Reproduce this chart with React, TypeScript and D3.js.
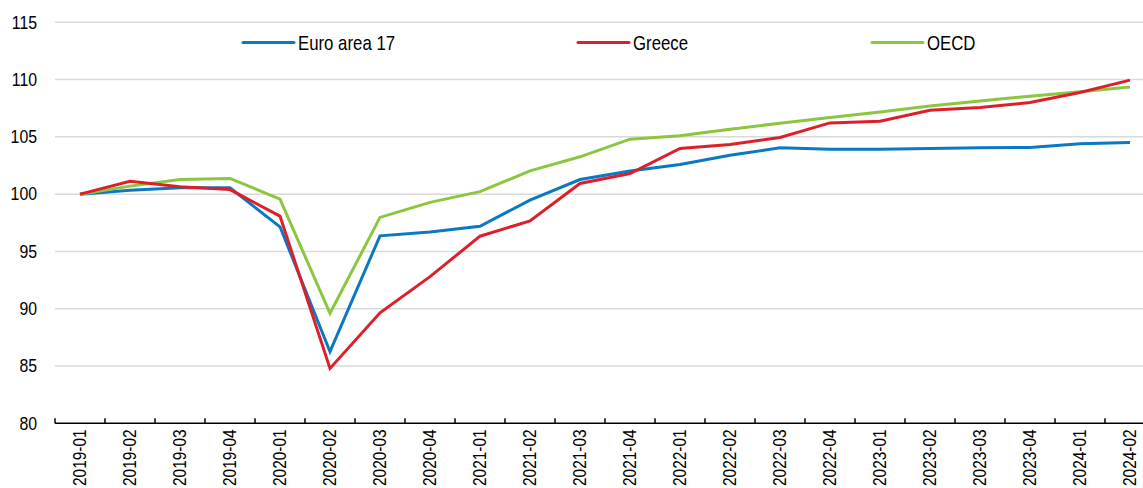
import React from "react";
import * as d3 from "d3";

const categories = [
  "2019-01", "2019-02", "2019-03", "2019-04",
  "2020-01", "2020-02", "2020-03", "2020-04",
  "2021-01", "2021-02", "2021-03", "2021-04",
  "2022-01", "2022-02", "2022-03", "2022-04",
  "2023-01", "2023-02", "2023-03", "2023-04",
  "2024-01", "2024-02",
];

const euroArea = [
  100, 100.35, 100.55, 100.55, 97.15, 86.25, 96.36, 96.7, 97.2, 99.48, 101.28,
  102.03, 102.59, 103.4, 104.04, 103.93, 103.93, 103.99, 104.04, 104.07, 104.4, 104.5,
];
const greece = [
  100, 101.13, 100.64, 100.4, 98.08, 84.79, 89.64, 92.8, 96.33, 97.67, 100.93,
  101.8, 103.99, 104.34, 104.95, 106.22, 106.37, 107.33, 107.56, 108.0, 108.87, 109.95,
];
const oecd = [
  100, 100.7, 101.28, 101.37, 99.56, 89.6, 97.97, 99.28, 100.22, 102.03, 103.26,
  104.8, 105.09, 105.67, 106.19, 106.69, 107.18, 107.7, 108.14, 108.55, 108.93, 109.36,
];

const yTicks = [80, 85, 90, 95, 100, 105, 110, 115];

const seriesNames = ["Euro area 17", "Greece", "OECD"];
const seriesColors = ["#0a79c1", "#dd1f2b", "#8cc63f"];
const seriesValues = [euroArea, greece, oecd];
const legendX = [243, 578, 872];

const W = 1143;
const H = 488;
const FONT = "'Liberation Sans', Arial, sans-serif";

export default function App() {
  const x = d3.scaleBand<string>().domain(categories).range([55, 1155]).paddingInner(0).paddingOuter(0);
  const y = d3.scaleLinear().domain([80, 115]).range([423.3, 22.3]);
  const cx = (c: string) => (x(c) as number) + x.bandwidth() / 2;
  const line = d3
    .line<number>()
    .x((_, i) => cx(categories[i]))
    .y((v) => y(v));

  const tickEdges = categories.map((c) => x(c) as number).concat([1155]);
  const axisY = y(80);

  return (
    <svg
      width={W}
      height={H}
      style={{ position: "absolute", left: 0, top: 0, background: "#fff" }}
      fontFamily={FONT}
    >
      {yTicks.filter((t) => t !== 80).map((t) => (
        <line key={"g" + t} x1={55} x2={W} y1={y(t)} y2={y(t)} stroke="#d9d9d9" strokeWidth={1.5} />
      ))}
      {yTicks.map((t) => (
        <text
          key={"yl" + t}
          transform={`translate(37,${y(t)}) scale(0.88,1)`}
          dy="0.35em"
          textAnchor="end"
          fontSize={18}
          fill="#000"
        >
          {t}
        </text>
      ))}
      <line x1={55} x2={W} y1={axisY} y2={axisY} stroke="#000" strokeWidth={1.5} />
      {tickEdges.map((e, i) => (
        <line key={"t" + i} x1={e} x2={e} y1={axisY} y2={axisY - 5} stroke="#000" strokeWidth={1.5} />
      ))}
      {categories.map((c) => (
        <text
          key={"xl" + c}
          transform={`translate(${cx(c)},${axisY + 6}) rotate(-90) scale(0.86,1)`}
          textAnchor="end"
          dy="0.35em"
          fontSize={18}
          fill="#000"
        >
          {c}
        </text>
      ))}
      {[0, 2, 1].map((k) => (
        <path
          key={"s" + k}
          d={line(seriesValues[k]) || ""}
          fill="none"
          stroke={seriesColors[k]}
          strokeWidth={3}
          strokeLinejoin="miter"
        />
      ))}
      {seriesNames.map((n, k) => (
        <g key={"lg" + k}>
          <line x1={legendX[k]} x2={legendX[k] + 51} y1={42.5} y2={42.5} stroke={seriesColors[k]} strokeWidth={3} strokeLinecap="round" />
          <text
            transform={`translate(${legendX[k] + 55},42.5) scale(0.84,1)`}
            dy="0.35em"
            fontSize={20}
            fill="#000"
          >
            {n}
          </text>
        </g>
      ))}
    </svg>
  );
}
